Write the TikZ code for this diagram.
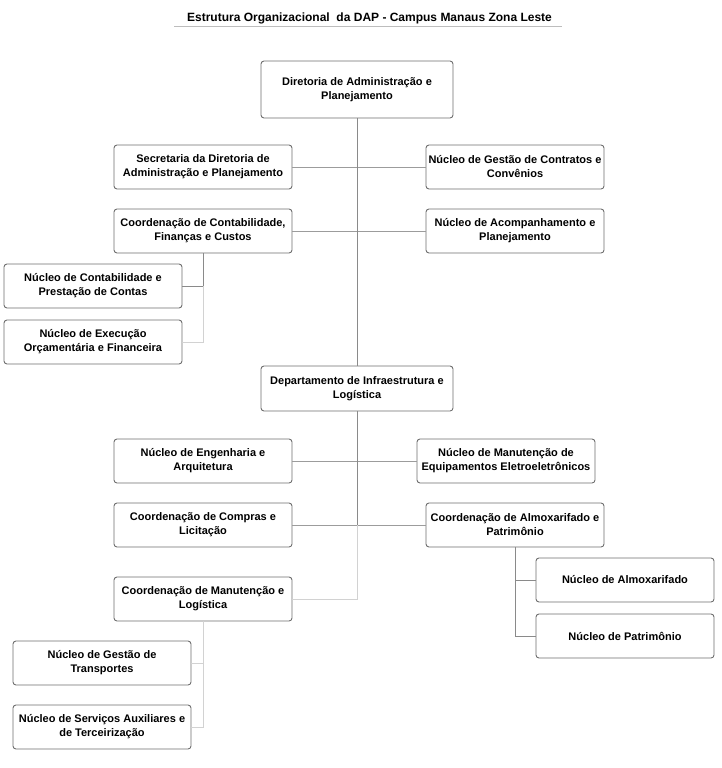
\documentclass[tikz,border=0pt]{standalone}
\usepackage{fontspec}
\setmainfont{Liberation Sans}
\definecolor{boxline}{HTML}{6E6E6E}
\definecolor{darkconn}{HTML}{8A8A8A}
\definecolor{midconn}{HTML}{9C9C9C}
\definecolor{lightconn}{HTML}{D2D2D2}
\definecolor{ruleline}{HTML}{BDBDBD}
\begin{document}
\begin{tikzpicture}[x=1pt,y=-1pt,
  orgbox/.style={draw=boxline, line width=0.9pt, rounded corners=3pt, fill=white,
    minimum width=178pt, minimum height=44pt, align=center, inner sep=2pt,
    font=\fontsize{11}{14}\selectfont\bfseries},
  bigbox/.style={orgbox, minimum width=192pt},
  dconn/.style={draw=darkconn, line width=1pt},
  mconn/.style={draw=midconn, line width=0.9pt},
  lconn/.style={draw=lightconn, line width=1pt}]
\useasboundingbox (0,0) rectangle (721,768);
\node[font=\fontsize{12}{14}\selectfont\bfseries] (title) at (369.5,18) {Estrutura Organizacional\ \ da DAP - Campus Manaus Zona Leste};
\coordinate (ruleL) at (174,26.5);
\coordinate (ruleR) at (562,26.5);
\draw[draw=ruleline, line width=1.3pt] (ruleL) -- (ruleR);

\coordinate (t1) at (357,525);
\coordinate (t2) at (357,599);
\coordinate (c1) at (203,286);
\coordinate (c2) at (203,342);
\coordinate (a1) at (515,580);
\coordinate (a2) at (515,636);
\coordinate (m1) at (203,663);
\coordinate (m2) at (203,727);

\node[bigbox, minimum height=57pt] (dir) at (357,89.5) {Diretoria de Administração e\\Planejamento};
\node[orgbox] (sec) at (203,167) {Secretaria da Diretoria de\\Administração e Planejamento};
\node[orgbox] (gc) at (515,167) {Núcleo de Gestão de Contratos e\\Convênios};
\node[orgbox] (cc) at (203,231) {Coordenação de Contabilidade,\\Finanças e Custos};
\node[orgbox] (acomp) at (515,231) {Núcleo de Acompanhamento e\\Planejamento};
\node[orgbox] (ncp) at (93,286) {Núcleo de Contabilidade e\\Prestação de Contas};
\node[orgbox] (nex) at (93,342) {Núcleo de Execução\\Orçamentária e Financeira};
\node[bigbox, minimum height=45pt] (dep) at (357,388.5) {Departamento de Infraestrutura e\\Logística};
\node[orgbox] (eng) at (203,461) {Núcleo de Engenharia e\\Arquitetura};
\node[orgbox] (meq) at (506,461) {Núcleo de Manutenção de\\Equipamentos Eletroeletrônicos};
\node[orgbox] (comp) at (203,525) {Coordenação de Compras e\\Licitação};
\node[orgbox] (alm) at (515,525) {Coordenação de Almoxarifado e\\Patrimônio};
\node[orgbox] (nalm) at (625,580) {Núcleo de Almoxarifado};
\node[orgbox] (npat) at (625,636) {Núcleo de Patrimônio};
\node[orgbox] (cml) at (203,599) {Coordenação de Manutenção e\\Logística};
\node[orgbox] (ngt) at (102,663) {Núcleo de Gestão de\\Transportes};
\node[orgbox] (nsa) at (102,727) {Núcleo de Serviços Auxiliares e\\de Terceirização};

\path[mconn] (sec.east) -- (gc.west);
\path[mconn] (cc.east) -- (acomp.west);
\path[mconn] (eng.east) -- (meq.west);
\path[mconn] (comp.east) -- (alm.west);
\path[dconn] (dir.south) -- (dep.north);
\path[dconn] (dep.south) -- (t1);
\path[lconn] (t1) -- (t2) -- (cml.east);
\path[dconn] (cc.south) -- (c1) -- (ncp.east);
\path[lconn] (c1) -- (c2) -- (nex.east);
\path[dconn] (alm.south) -- (a1) -- (nalm.west);
\path[dconn] (a1) -- (a2) -- (npat.west);
\path[lconn] (cml.south) -- (m1) -- (ngt.east);
\path[lconn] (m1) -- (m2) -- (nsa.east);
\end{tikzpicture}
\end{document}
